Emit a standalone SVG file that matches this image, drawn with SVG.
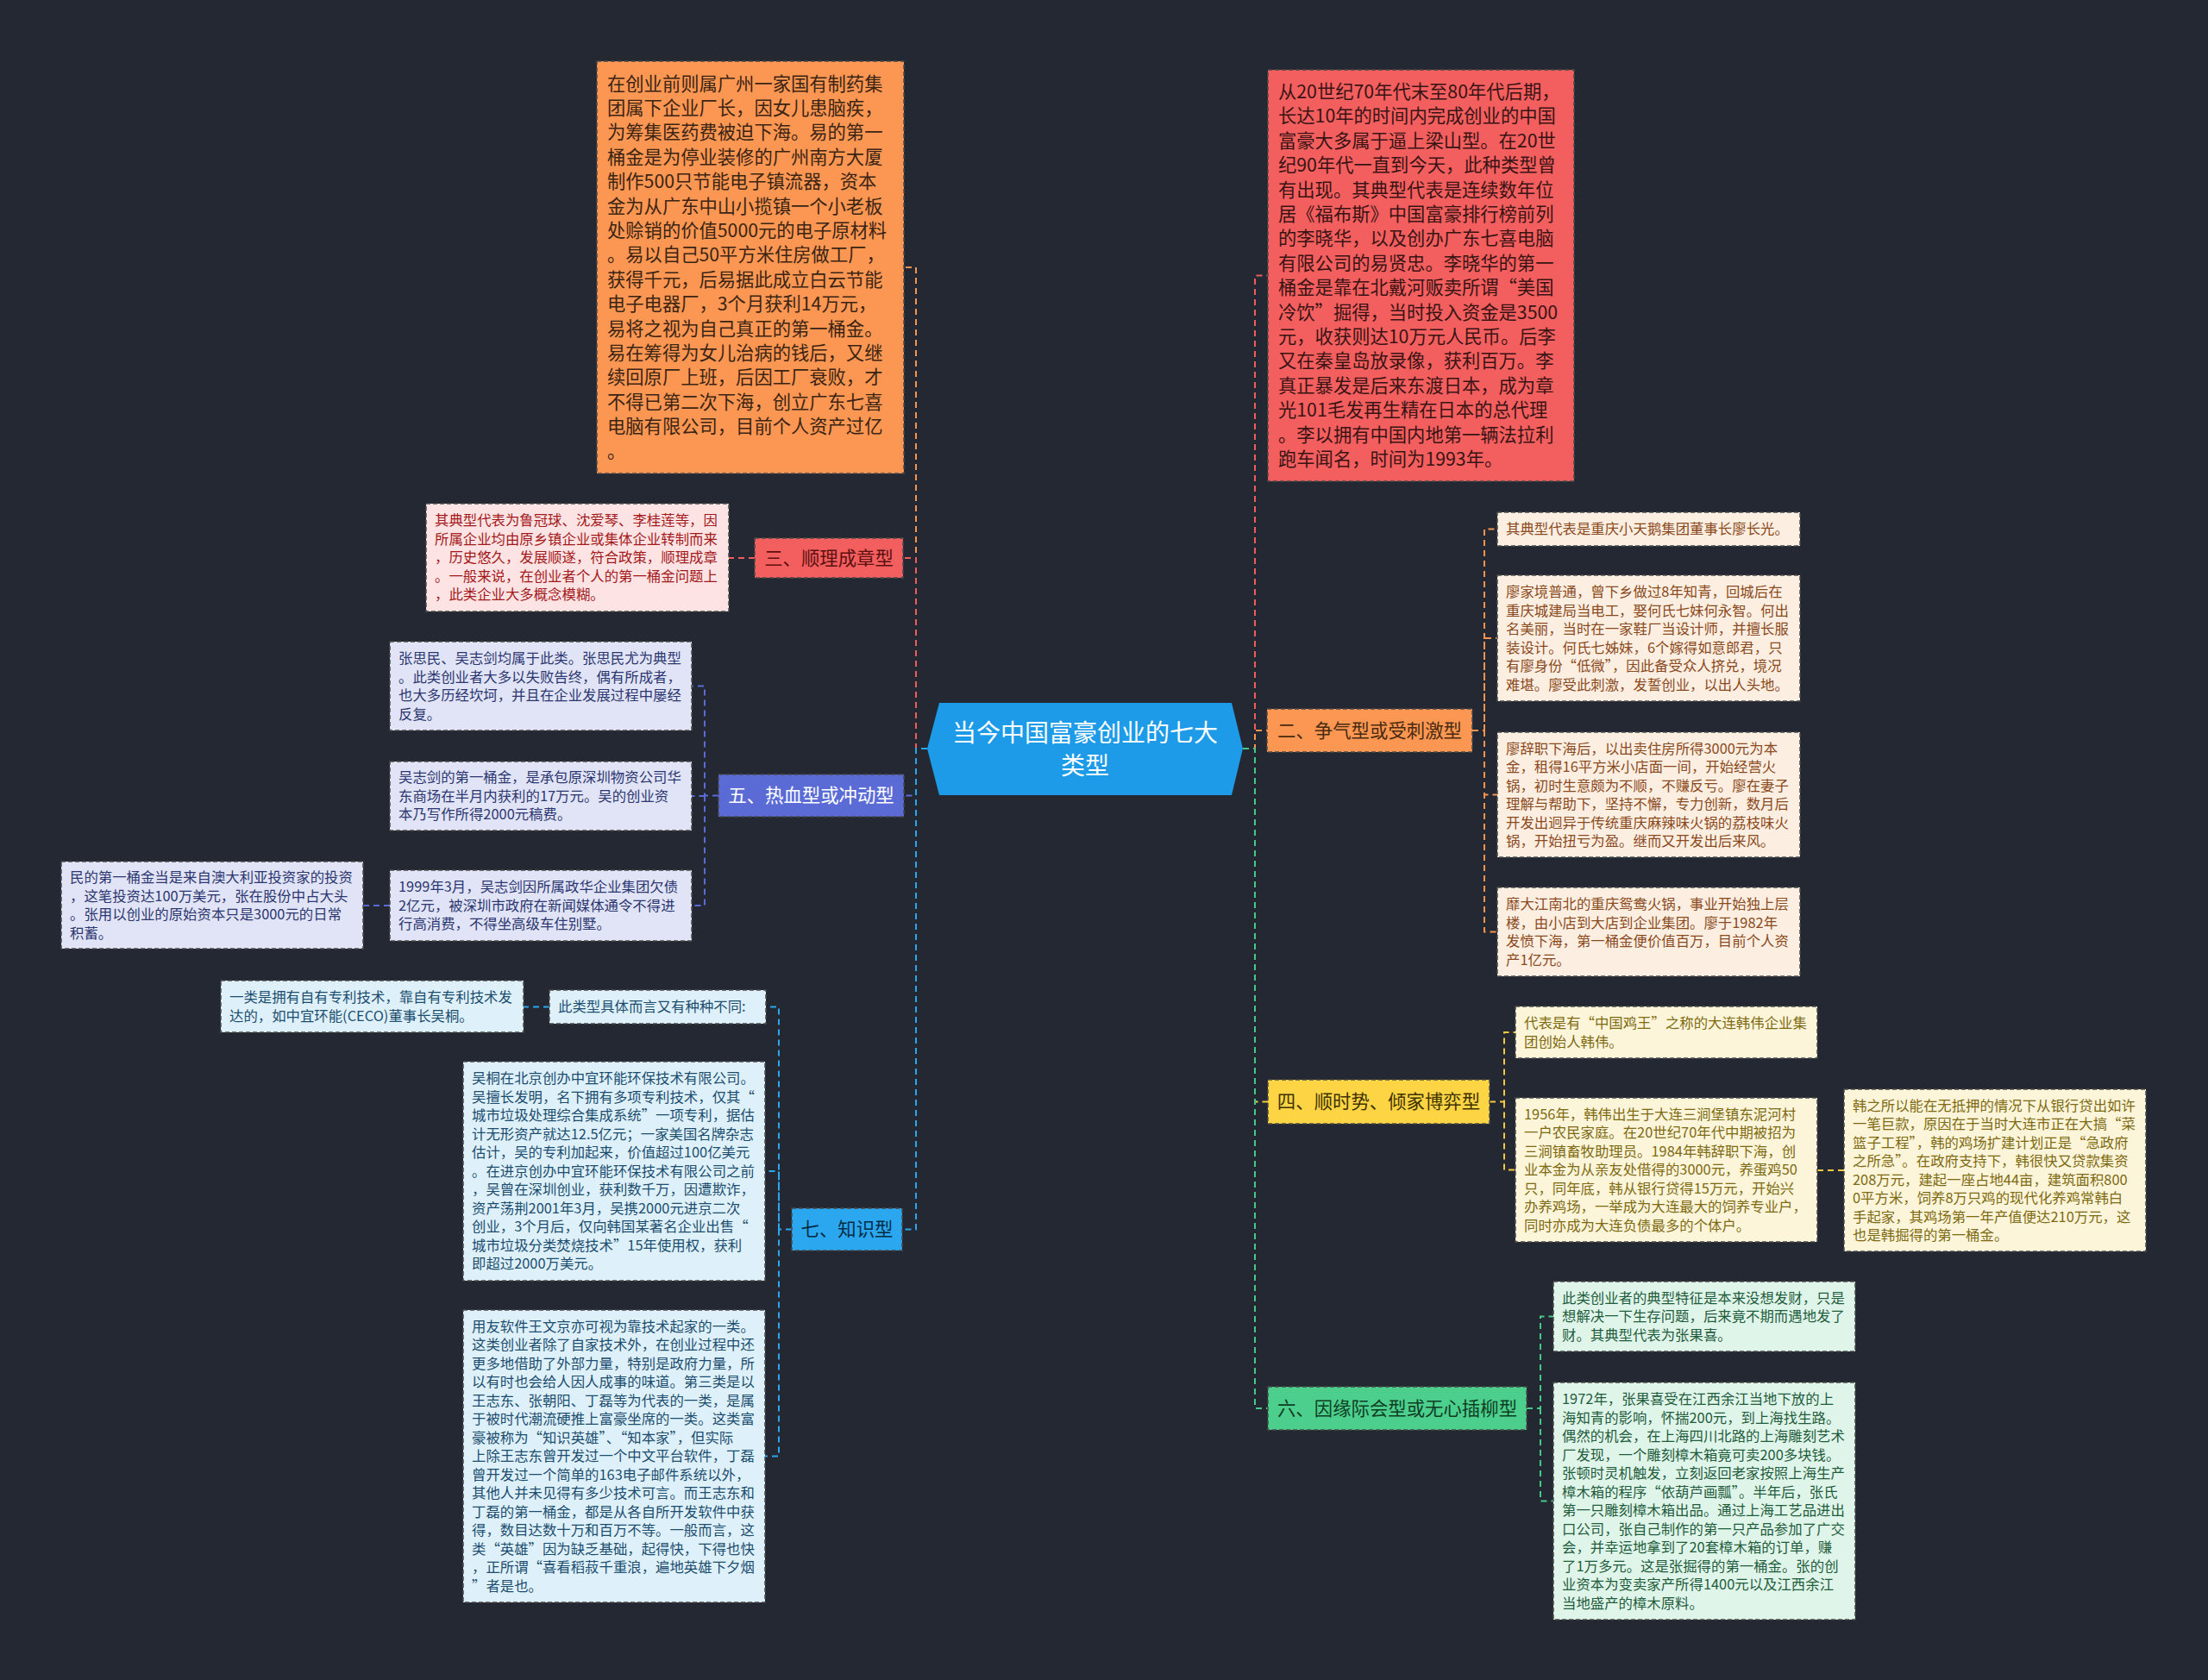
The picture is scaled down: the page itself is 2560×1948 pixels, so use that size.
<svg xmlns="http://www.w3.org/2000/svg" width="2560" height="1948" viewBox="0 0 2560 1948">
<style>
text{font-family:"Noto Sans CJK SC","Noto Sans",sans-serif;}
.bx{stroke:#4a4a4a;stroke-width:1.5;stroke-dasharray:5 3;}
.big{font-size:21.3px;}
.sm{font-size:16.4px;}
.lb{font-size:21.4px;text-anchor:middle;}
.cn{fill:none;stroke-width:2;stroke-dasharray:7 5;}
</style>
<rect x="0" y="0" width="2560" height="1948" fill="#242832"/>
<g id="connectors">
<path class="cn" stroke="#f7954f" d="M1075 868H1062V310H1048"/>
<path class="cn" stroke="#5b6bd5" d="M1075 868H1062V922.5H1048"/>
<path class="cn" stroke="#f05c5c" d="M1075 868H1062V647H1047"/>
<path class="cn" stroke="#2aa7ef" d="M1075 868H1062V1425.5H1046"/>
<path class="cn" stroke="#f05c5c" d="M1441 868H1455V319.5H1470"/>
<path class="cn" stroke="#f7954f" d="M1441 868H1455V847H1469"/>
<path class="cn" stroke="#f5c93f" d="M1441 868H1455V1277.5H1470"/>
<path class="cn" stroke="#45c987" d="M1441 868H1455V1633H1470"/>
<path class="cn" stroke="#f05c5c" d="M875 647H845"/>
<path class="cn" stroke="#5b6bd5" d="M833 922.5H817V795.5H802M817 922.5V923H802M817 922.5V1050H802M452 1050H421"/>
<path class="cn" stroke="#2aa7ef" d="M918 1425.5H903V1167.5H888M903 1425.5V1358H887M903 1425.5V1688.5H887M637 1167.5H607"/>
<path class="cn" stroke="#f7954f" d="M1707 847H1721V613.5H1736M1721 847V740H1736M1721 847V921.5H1736M1721 847V1080.5H1736"/>
<path class="cn" stroke="#f5c93f" d="M1727 1277.5H1744V1197H1757M1744 1277.5V1356.5H1757M2107 1357H2138"/>
<path class="cn" stroke="#45c987" d="M1770 1633H1786V1526.5H1801M1786 1633V1740.5H1801"/>
</g>
<g id="center">
<polygon points="1075,868 1089,815 1428,815 1441,868 1428,922 1089,922" fill="#1d9be8"/>
<text x="1258" y="860" font-size="28" fill="#ffffff" text-anchor="middle">当今中国富豪创业的七大</text>
<text x="1258" y="898" font-size="28" fill="#ffffff" text-anchor="middle">类型</text>
</g>
<g id="n-orange">
<rect class="bx" x="692" y="71" width="356" height="478" fill="#fb9752"/>
<g class="big" fill="#3b2414">
<text x="704" y="104.5">在创业前则属广州一家国有制药集</text>
<text x="704" y="132.9">团属下企业厂长，因女儿患脑疾，</text>
<text x="704" y="161.3">为筹集医药费被迫下海。易的第一</text>
<text x="704" y="189.7">桶金是为停业装修的广州南方大厦</text>
<text x="704" y="218.1">制作500只节能电子镇流器，资本</text>
<text x="704" y="246.5">金为从广东中山小揽镇一个小老板</text>
<text x="704" y="274.9">处赊销的价值5000元的电子原材料</text>
<text x="704" y="303.3">。易以自己50平方米住房做工厂，</text>
<text x="704" y="331.7">获得千元，后易据此成立白云节能</text>
<text x="704" y="360.1">电子电器厂，3个月获利14万元，</text>
<text x="704" y="388.5">易将之视为自己真正的第一桶金。</text>
<text x="704" y="416.9">易在筹得为女儿治病的钱后，又继</text>
<text x="704" y="445.3">续回原厂上班，后因工厂衰败，才</text>
<text x="704" y="473.7">不得已第二次下海，创立广东七喜</text>
<text x="704" y="502.1">电脑有限公司，目前个人资产过亿</text>
<text x="704" y="530.5">。</text>
</g>
</g>
<g id="n-1">
<rect class="bx" x="1470" y="81" width="355" height="477" fill="#f35e5e"/>
<g class="big" fill="#3a1414">
<text x="1482" y="114">从20世纪70年代末至80年代后期，</text>
<text x="1482" y="142.4">长达10年的时间内完成创业的中国</text>
<text x="1482" y="170.8">富豪大多属于逼上梁山型。在20世</text>
<text x="1482" y="199.2">纪90年代一直到今天，此种类型曾</text>
<text x="1482" y="227.6">有出现。其典型代表是连续数年位</text>
<text x="1482" y="256">居《福布斯》中国富豪排行榜前列</text>
<text x="1482" y="284.4">的李晓华，以及创办广东七喜电脑</text>
<text x="1482" y="312.8">有限公司的易贤忠。李晓华的第一</text>
<text x="1482" y="341.2">桶金是靠在北戴河贩卖所谓“美国</text>
<text x="1482" y="369.6">冷饮”掘得，当时投入资金是3500</text>
<text x="1482" y="398">元，收获则达10万元人民币。后李</text>
<text x="1482" y="426.4">又在秦皇岛放录像，获利百万。李</text>
<text x="1482" y="454.8">真正暴发是后来东渡日本，成为章</text>
<text x="1482" y="483.2">光101毛发再生精在日本的总代理</text>
<text x="1482" y="511.6">。李以拥有中国内地第一辆法拉利</text>
<text x="1482" y="540">跑车闻名，时间为1993年。</text>
</g>
</g>
<g id="n-3">
<rect class="bx" x="875" y="624" width="172" height="46" fill="#f35e5e"/>
<text class="lb" x="961" y="654.5" fill="#5c1010">三、顺理成章型</text>
</g>
<g id="n-3a">
<rect class="bx" x="494" y="584" width="351" height="125" fill="#fde3e3"/>
<g class="sm" fill="#a3191b">
<text x="504" y="609.3">其典型代表为鲁冠球、沈爱琴、李桂莲等，因</text>
<text x="504" y="630.8">所属企业均由原乡镇企业或集体企业转制而来</text>
<text x="504" y="652.3">，历史悠久，发展顺遂，符合政策，顺理成章</text>
<text x="504" y="673.8">。一般来说，在创业者个人的第一桶金问题上</text>
<text x="504" y="695.3">，此类企业大多概念模糊。</text>
</g>
</g>
<g id="n-5">
<rect class="bx" x="833" y="898" width="215" height="49" fill="#5b6bd5"/>
<text class="lb" x="940.5" y="930" fill="#ffffff">五、热血型或冲动型</text>
</g>
<g id="n-5a">
<rect class="bx" x="452" y="744" width="350" height="103" fill="#e1e4f6"/>
<g class="sm" fill="#2c3670">
<text x="462" y="769">张思民、吴志剑均属于此类。张思民尤为典型</text>
<text x="462" y="790.5">。此类创业者大多以失败告终，偶有所成者，</text>
<text x="462" y="812">也大多历经坎坷，并且在企业发展过程中屡经</text>
<text x="462" y="833.5">反复。</text>
</g>
</g>
<g id="n-5b">
<rect class="bx" x="452" y="883" width="350" height="80" fill="#e1e4f6"/>
<g class="sm" fill="#2c3670">
<text x="462" y="907.3">吴志剑的第一桶金，是承包原深圳物资公司华</text>
<text x="462" y="928.8">东商场在半月内获利的17万元。吴的创业资</text>
<text x="462" y="950.3">本乃写作所得2000元稿费。</text>
</g>
</g>
<g id="n-5c">
<rect class="bx" x="452" y="1009" width="350" height="82" fill="#e1e4f6"/>
<g class="sm" fill="#2c3670">
<text x="462" y="1034.3">1999年3月，吴志剑因所属政华企业集团欠债</text>
<text x="462" y="1055.8">2亿元，被深圳市政府在新闻媒体通令不得进</text>
<text x="462" y="1077.3">行高消费，不得坐高级车住别墅。</text>
</g>
</g>
<g id="n-5d">
<rect class="bx" x="71" y="999" width="350" height="101" fill="#e1e4f6"/>
<g class="sm" fill="#2c3670">
<text x="81" y="1023">民的第一桶金当是来自澳大利亚投资家的投资</text>
<text x="81" y="1044.5">，这笔投资达100万美元，张在股份中占大头</text>
<text x="81" y="1066">。张用以创业的原始资本只是3000元的日常</text>
<text x="81" y="1087.5">积蓄。</text>
</g>
</g>
<g id="n-7">
<rect class="bx" x="918" y="1401" width="128" height="49" fill="#2aa7ef"/>
<text class="lb" x="982" y="1433" fill="#062c44">七、知识型</text>
</g>
<g id="n-7a">
<rect class="bx" x="637" y="1148" width="251" height="39" fill="#def1fb"/>
<text class="sm" x="647" y="1173.3" fill="#1c4d6e">此类型具体而言又有种种不同:</text>
</g>
<g id="n-7a1">
<rect class="bx" x="256" y="1137" width="351" height="60" fill="#def1fb"/>
<g class="sm" fill="#1c4d6e">
<text x="266" y="1162">一类是拥有自有专利技术，靠自有专利技术发</text>
<text x="266" y="1183.5">达的，如中宜环能(CECO)董事长吴桐。</text>
</g>
</g>
<g id="n-7b">
<rect class="bx" x="537" y="1231" width="350" height="254" fill="#def1fb"/>
<g class="sm" fill="#1c4d6e">
<text x="547" y="1256.3">吴桐在北京创办中宜环能环保技术有限公司。</text>
<text x="547" y="1277.8">吴擅长发明，名下拥有多项专利技术，仅其“</text>
<text x="547" y="1299.3">城市垃圾处理综合集成系统”一项专利，据估</text>
<text x="547" y="1320.8">计无形资产就达12.5亿元；一家美国名牌杂志</text>
<text x="547" y="1342.3">估计，吴的专利加起来，价值超过100亿美元</text>
<text x="547" y="1363.8">。在进京创办中宜环能环保技术有限公司之前</text>
<text x="547" y="1385.3">，吴曾在深圳创业，获利数千万，因遭欺诈，</text>
<text x="547" y="1406.8">资产荡荆2001年3月，吴携2000元进京二次</text>
<text x="547" y="1428.3">创业，3个月后，仅向韩国某著名企业出售“</text>
<text x="547" y="1449.8">城市垃圾分类焚烧技术”15年使用权，获利</text>
<text x="547" y="1471.3">即超过2000万美元。</text>
</g>
</g>
<g id="n-7c">
<rect class="bx" x="537" y="1519" width="350" height="339" fill="#def1fb"/>
<g class="sm" fill="#1c4d6e">
<text x="547" y="1543.8">用友软件王文京亦可视为靠技术起家的一类。</text>
<text x="547" y="1565.3">这类创业者除了自家技术外，在创业过程中还</text>
<text x="547" y="1586.8">更多地借助了外部力量，特别是政府力量，所</text>
<text x="547" y="1608.3">以有时也会给人因人成事的味道。第三类是以</text>
<text x="547" y="1629.8">王志东、张朝阳、丁磊等为代表的一类，是属</text>
<text x="547" y="1651.3">于被时代潮流硬推上富豪坐席的一类。这类富</text>
<text x="547" y="1672.8">豪被称为“知识英雄”、“知本家”，但实际</text>
<text x="547" y="1694.3">上除王志东曾开发过一个中文平台软件，丁磊</text>
<text x="547" y="1715.8">曾开发过一个简单的163电子邮件系统以外，</text>
<text x="547" y="1737.3">其他人并未见得有多少技术可言。而王志东和</text>
<text x="547" y="1758.8">丁磊的第一桶金，都是从各自所开发软件中获</text>
<text x="547" y="1780.3">得，数目达数十万和百万不等。一般而言，这</text>
<text x="547" y="1801.8">类“英雄”因为缺乏基础，起得快，下得也快</text>
<text x="547" y="1823.3">，正所谓“喜看稻菽千重浪，遍地英雄下夕烟</text>
<text x="547" y="1844.8">”者是也。</text>
</g>
</g>
<g id="n-2">
<rect class="bx" x="1469" y="822" width="238" height="50" fill="#fb9752"/>
<text class="lb" x="1588" y="854.5" fill="#4a2a10">二、争气型或受刺激型</text>
</g>
<g id="n-2a">
<rect class="bx" x="1736" y="594" width="351" height="39" fill="#fdeee2"/>
<text class="sm" x="1746" y="619.3" fill="#8a4a20">其典型代表是重庆小天鹅集团董事长廖长光。</text>
</g>
<g id="n-2b">
<rect class="bx" x="1736" y="667" width="351" height="146" fill="#fdeee2"/>
<g class="sm" fill="#8a4a20">
<text x="1746" y="692">廖家境普通，曾下乡做过8年知青，回城后在</text>
<text x="1746" y="713.5">重庆城建局当电工，娶何氏七妹何永智。何出</text>
<text x="1746" y="735">名美丽，当时在一家鞋厂当设计师，并擅长服</text>
<text x="1746" y="756.5">装设计。何氏七姊妹，6个嫁得如意郎君，只</text>
<text x="1746" y="778">有廖身份“低微”，因此备受众人挤兑，境况</text>
<text x="1746" y="799.5">难堪。廖受此刺激，发誓创业，以出人头地。</text>
</g>
</g>
<g id="n-2c">
<rect class="bx" x="1736" y="849" width="351" height="145" fill="#fdeee2"/>
<g class="sm" fill="#8a4a20">
<text x="1746" y="873.5">廖辞职下海后，以出卖住房所得3000元为本</text>
<text x="1746" y="895">金，租得16平方米小店面一间，开始经营火</text>
<text x="1746" y="916.5">锅，初时生意颇为不顺，不赚反亏。廖在妻子</text>
<text x="1746" y="938">理解与帮助下，坚持不懈，专力创新，数月后</text>
<text x="1746" y="959.5">开发出迥异于传统重庆麻辣味火锅的荔枝味火</text>
<text x="1746" y="981">锅，开始扭亏为盈。继而又开发出后来风。</text>
</g>
</g>
<g id="n-2d">
<rect class="bx" x="1736" y="1029" width="351" height="103" fill="#fdeee2"/>
<g class="sm" fill="#8a4a20">
<text x="1746" y="1054">靡大江南北的重庆鸳鸯火锅，事业开始独上层</text>
<text x="1746" y="1075.5">楼，由小店到大店到企业集团。廖于1982年</text>
<text x="1746" y="1097">发愤下海，第一桶金便价值百万，目前个人资</text>
<text x="1746" y="1118.5">产1亿元。</text>
</g>
</g>
<g id="n-4">
<rect class="bx" x="1470" y="1252" width="257" height="51" fill="#fdd444"/>
<text class="lb" x="1598.5" y="1285" fill="#3f3200">四、顺时势、倾家博弈型</text>
</g>
<g id="n-4a">
<rect class="bx" x="1757" y="1167" width="350" height="60" fill="#fdf5d9"/>
<g class="sm" fill="#7d6a12">
<text x="1767" y="1192">代表是有“中国鸡王”之称的大连韩伟企业集</text>
<text x="1767" y="1213.5">团创始人韩伟。</text>
</g>
</g>
<g id="n-4b">
<rect class="bx" x="1757" y="1273" width="350" height="167" fill="#fdf5d9"/>
<g class="sm" fill="#7d6a12">
<text x="1767" y="1297.8">1956年，韩伟出生于大连三涧堡镇东泥河村</text>
<text x="1767" y="1319.3">一户农民家庭。在20世纪70年代中期被招为</text>
<text x="1767" y="1340.8">三涧镇畜牧助理员。1984年韩辞职下海，创</text>
<text x="1767" y="1362.3">业本金为从亲友处借得的3000元，养蛋鸡50</text>
<text x="1767" y="1383.8">只，同年底，韩从银行贷得15万元，开始兴</text>
<text x="1767" y="1405.3">办养鸡场，一举成为大连最大的饲养专业户，</text>
<text x="1767" y="1426.8">同时亦成为大连负债最多的个体户。</text>
</g>
</g>
<g id="n-4c">
<rect class="bx" x="2138" y="1263" width="350" height="188" fill="#fdf5d9"/>
<g class="sm" fill="#7d6a12">
<text x="2148" y="1287.5">韩之所以能在无抵押的情况下从银行贷出如许</text>
<text x="2148" y="1309">一笔巨款，原因在于当时大连市正在大搞“菜</text>
<text x="2148" y="1330.5">篮子工程”，韩的鸡场扩建计划正是“急政府</text>
<text x="2148" y="1352">之所急”。在政府支持下，韩很快又贷款集资</text>
<text x="2148" y="1373.5">208万元，建起一座占地44亩，建筑面积800</text>
<text x="2148" y="1395">0平方米，饲养8万只鸡的现代化养鸡常韩白</text>
<text x="2148" y="1416.5">手起家，其鸡场第一年产值便达210万元，这</text>
<text x="2148" y="1438">也是韩掘得的第一桶金。</text>
</g>
</g>
<g id="n-6">
<rect class="bx" x="1470" y="1608" width="300" height="50" fill="#4ccf8c"/>
<text class="lb" x="1620" y="1640.5" fill="#0f3d24">六、因缘际会型或无心插柳型</text>
</g>
<g id="n-6a">
<rect class="bx" x="1801" y="1486" width="350" height="81" fill="#e0f5ea"/>
<g class="sm" fill="#1f5c3c">
<text x="1811" y="1510.8">此类创业者的典型特征是本来没想发财，只是</text>
<text x="1811" y="1532.3">想解决一下生存问题，后来竟不期而遇地发了</text>
<text x="1811" y="1553.8">财。其典型代表为张果喜。</text>
</g>
</g>
<g id="n-6b">
<rect class="bx" x="1801" y="1603" width="350" height="275" fill="#e0f5ea"/>
<g class="sm" fill="#1f5c3c">
<text x="1811" y="1628">1972年，张果喜受在江西余江当地下放的上</text>
<text x="1811" y="1649.5">海知青的影响，怀揣200元，到上海找生路。</text>
<text x="1811" y="1671">偶然的机会，在上海四川北路的上海雕刻艺术</text>
<text x="1811" y="1692.5">厂发现，一个雕刻樟木箱竟可卖200多块钱。</text>
<text x="1811" y="1714">张顿时灵机触发，立刻返回老家按照上海生产</text>
<text x="1811" y="1735.5">樟木箱的程序“依葫芦画瓢”。半年后，张氏</text>
<text x="1811" y="1757">第一只雕刻樟木箱出品。通过上海工艺品进出</text>
<text x="1811" y="1778.5">口公司，张自己制作的第一只产品参加了广交</text>
<text x="1811" y="1800">会，并幸运地拿到了20套樟木箱的订单，赚</text>
<text x="1811" y="1821.5">了1万多元。这是张掘得的第一桶金。张的创</text>
<text x="1811" y="1843">业资本为变卖家产所得1400元以及江西余江</text>
<text x="1811" y="1864.5">当地盛产的樟木原料。</text>
</g>
</g>
</svg>
